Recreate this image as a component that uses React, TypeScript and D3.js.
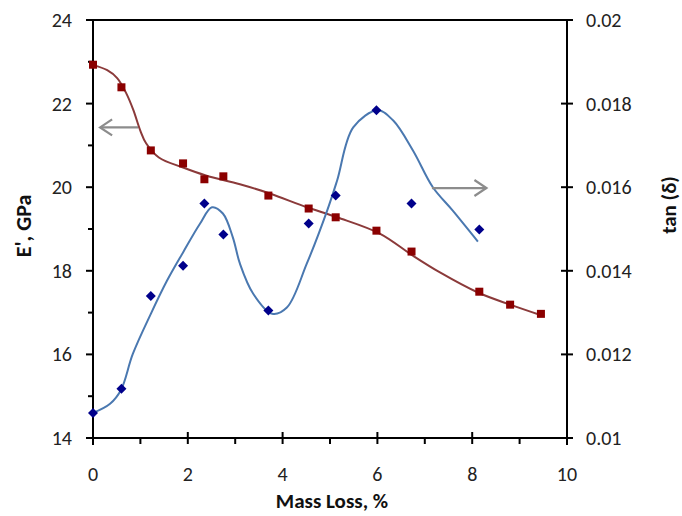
import React from "react";
import * as d3 from "d3";

const massLoss = [0, 0.6, 1.22, 1.9, 2.35, 2.75, 3.7, 4.55, 5.12, 5.98, 6.72, 8.15, 8.8, 9.45];
const modulus = [22.93, 22.39, 20.88, 20.57, 20.19, 20.26, 19.8, 19.49, 19.28, 18.96, 18.46, 17.5, 17.19, 16.97];
const tanX = [0, 0.6, 1.22, 1.9, 2.35, 2.75, 3.7, 4.55, 5.12, 5.98, 6.72, 8.15];
const tanDelta = [0.0106, 0.01118, 0.0134, 0.01412, 0.01561, 0.01487, 0.01305, 0.01513, 0.0158, 0.01784, 0.01561, 0.01499];

const modFitX = [0, 0.3, 0.51, 0.7, 0.85, 1.0, 1.12, 1.39, 1.9, 2.38, 3.1, 3.73, 4.51, 5.15, 6.05, 6.75, 7.32, 8.12, 8.8, 9.47];
const modFitY = [22.92, 22.8, 22.61, 22.25, 21.85, 21.35, 21.05, 20.71, 20.47, 20.28, 20.07, 19.85, 19.52, 19.28, 18.89, 18.36, 17.96, 17.48, 17.19, 16.93];
const tanFitX = [0, 0.36, 0.59, 0.84, 1.22, 1.56, 1.9, 2.26, 2.51, 2.74, 2.95, 3.1, 3.38, 3.78, 4.09, 4.51, 4.94, 5.15, 5.49, 6.01, 6.33, 6.75, 7.17, 7.59, 8.12];
const tanFitY = [0.0106, 0.01082, 0.01115, 0.01201, 0.01297, 0.01376, 0.01444, 0.01513, 0.01552, 0.01537, 0.0148, 0.01417, 0.01345, 0.01297, 0.01312, 0.01417, 0.01544, 0.01616, 0.01743, 0.01784, 0.0176, 0.01688, 0.016, 0.01544, 0.0147];

const xTicks = [0, 2, 4, 6, 8, 10];
const xMinor = [1, 3, 5, 7, 9];
const leftTicks = [14, 16, 18, 20, 22, 24];
const leftMinor = [15, 17, 19, 21, 23];
const rightTicks = [0.01, 0.012, 0.014, 0.016, 0.018, 0.02];

const FONT = "Carlito, Lato, 'Open Sans', sans-serif";

export default function App() {
  const W = 682, H = 516;
  const x = d3.scaleLinear().domain([0, 10]).range([93, 567]);
  const yL = d3.scaleLinear().domain([14, 24]).range([438, 20]);
  const yR = d3.scaleLinear().domain([0.01, 0.02]).range([438, 20]);

  const modLine = d3.line<number>().x((d, i) => x(modFitX[i])).y((d) => yL(d)).curve(d3.curveCatmullRom.alpha(0.5));
  const tanLine = d3.line<number>().x((d, i) => x(tanFitX[i])).y((d) => yR(d)).curve(d3.curveCatmullRom.alpha(0.5));

  const x0 = x(0), x1 = x(10), yTop = yL(24), yBot = yL(14);
  const axisColor = "#000";
  const arrowColor = "#8c8c8c";

  return (
    <svg width={W} height={H} style={{ position: "absolute", left: 0, top: 0, background: "#fff" }} fontFamily={FONT}>
      <line x1={x0} x2={x1} y1={yTop} y2={yTop} stroke={axisColor} strokeWidth={2} />
      <line x1={x0} x2={x1} y1={yBot} y2={yBot} stroke={axisColor} strokeWidth={2} />
      <line x1={x0} x2={x0} y1={yTop} y2={yBot + 7} stroke={axisColor} strokeWidth={2} />
      <line x1={x1} x2={x1} y1={yTop} y2={yBot + 7} stroke={axisColor} strokeWidth={2} />

      {leftTicks.map((t) => (
        <g key={"l" + t}>
          <line x1={x0 - 7} x2={x0} y1={yL(t)} y2={yL(t)} stroke={axisColor} strokeWidth={2} />
          <text x={72} y={yL(t)} dy="0.35em" textAnchor="end" fontSize={20} fill="#222">{t}</text>
        </g>
      ))}
      {leftMinor.map((t) => (
        <line key={"lm" + t} x1={x0 - 5} x2={x0} y1={yL(t)} y2={yL(t)} stroke={axisColor} strokeWidth={2} />
      ))}

      {rightTicks.map((t) => (
        <g key={"r" + t}>
          <line x1={x1 - 6} x2={x1 + 6} y1={yR(t)} y2={yR(t)} stroke={axisColor} strokeWidth={2} />
          <text x={586} y={yR(t)} dy="0.35em" textAnchor="start" fontSize={20} fill="#222">{d3.format("")(+t.toFixed(3))}</text>
        </g>
      ))}

      {xTicks.map((t) => (
        <g key={"x" + t}>
          <line x1={x(t)} x2={x(t)} y1={yBot - 6} y2={yBot + 6} stroke={axisColor} strokeWidth={2} />
          <text x={x(t)} y={474} dy="0.35em" textAnchor="middle" fontSize={20} fill="#222">{t}</text>
        </g>
      ))}
      {xMinor.map((t) => (
        <line key={"xm" + t} x1={x(t)} x2={x(t)} y1={yBot} y2={yBot + 6} stroke={axisColor} strokeWidth={2} />
      ))}

      <text x={332} y={501} dy="0.35em" textAnchor="middle" fontSize={21} fontWeight="bold" fill="#111">Mass Loss, %</text>
      <text transform={`translate(23,226) rotate(-90)`} dy="0.35em" textAnchor="middle" fontSize={22} fontWeight="bold" fill="#111">E', GPa</text>
      <text transform={`translate(669,205) rotate(-90)`} dy="0.35em" textAnchor="middle" fontSize={21} fontWeight="bold" fill="#111">tan (δ)</text>

      <path d={modLine(modFitY) || ""} fill="none" stroke="#8b3a3a" strokeWidth={2} />
      <path d={tanLine(tanFitY) || ""} fill="none" stroke="#4a78b0" strokeWidth={2} />

      <g stroke={arrowColor} strokeWidth={2.2} fill="none">
        <line x1={x(0.95)} x2={x(0.15)} y1={yL(21.43)} y2={yL(21.43)} />
        <polyline points={`${x(0.15) + 12},${yL(21.43) - 8} ${x(0.15)},${yL(21.43)} ${x(0.15) + 12},${yL(21.43) + 8}`} />
        <line x1={x(7.15)} x2={x(8.3)} y1={yR(0.01598)} y2={yR(0.01598)} />
        <polyline points={`${x(8.3) - 12},${yR(0.01598) - 8} ${x(8.3)},${yR(0.01598)} ${x(8.3) - 12},${yR(0.01598) + 8}`} />
      </g>

      {massLoss.map((m, i) => (
        <rect key={"s" + i} x={x(m) - 4} y={yL(modulus[i]) - 4} width={8} height={8} fill="#8b0000" />
      ))}
      {tanX.map((m, i) => {
        const cx = x(m), cy = yR(tanDelta[i]);
        return <path key={"d" + i} d={`M${cx},${cy - 5}L${cx + 5},${cy}L${cx},${cy + 5}L${cx - 5},${cy}Z`} fill="#00008b" />;
      })}
    </svg>
  );
}
